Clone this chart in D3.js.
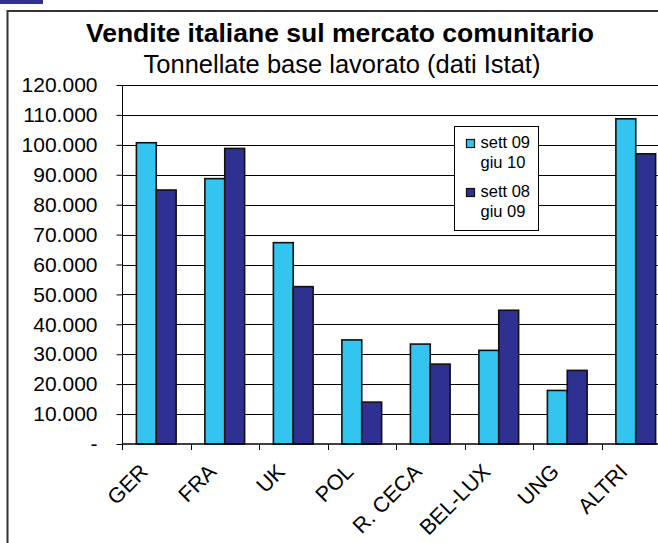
<!DOCTYPE html>
<html>
<head>
<meta charset="utf-8">
<script src="https://cdn.jsdelivr.net/npm/d3@7"></script>
<style>
  body { margin: 0; background: #fff; }
  svg { display: block; font-family: "Liberation Sans", Arial, sans-serif; }
</style>
</head>
<body>
<svg width="658" height="543"></svg>
<script>
const categories = ['GER', 'FRA', 'UK', 'POL', 'R. CECA', 'BEL-LUX', 'UNG', 'ALTRI']
const seriesNames = [['sett 09', 'giu 10'], ['sett 08', 'giu 09']]
const sett09giu10 = [100700, 88700, 67300, 34800, 33400, 31300, 17900, 108700]
const sett08giu09 = [84900, 98800, 52600, 14000, 26700, 44700, 24600, 97000]
const yTicks = [0, 10000, 20000, 30000, 40000, 50000, 60000, 70000, 80000, 90000, 100000, 110000, 120000]
const colors = ['#33c4ef', '#2e3192']

const svg = d3.select('svg')
const plotLeft = 122, plotRight = 670, plotTop = 85, plotBottom = 444

// frame and the small bar in the corner
svg.append('rect').attr('x', 0).attr('y', 0).attr('width', 43).attr('height', 4).attr('fill', '#2e3192')
svg.append('rect')
  .attr('x', 7.5).attr('y', 11).attr('width', 700).attr('height', 600)
  .attr('fill', 'none').attr('stroke', '#333').attr('stroke-width', 2)

svg.append('text')
  .attr('x', 340).attr('y', 42)
  .attr('text-anchor', 'middle')
  .style('font-size', '26.5px').style('font-weight', 'bold')
  .text('Vendite italiane sul mercato comunitario')
svg.append('text')
  .attr('x', 342).attr('y', 73)
  .attr('text-anchor', 'middle')
  .style('font-size', '25.5px')
  .text('Tonnellate base lavorato (dati Istat)')

let x = d3.scaleBand()
  .domain(categories)
  .range([plotLeft, plotRight])
  .paddingInner(0.42)
  .paddingOuter(0.21)
let xs = d3.scaleBand().domain([0, 1]).range([0, x.bandwidth()])
let y = d3.scaleLinear().domain([0, 120000]).range([plotBottom, plotTop])

const fmt = d3.formatLocale({ decimal: ',', thousands: '.', grouping: [3], currency: ['', '€'] }).format(',d')

// gridlines
svg.append('g')
  .selectAll('line')
  .data(yTicks.slice(1))
  .enter()
  .append('line')
  .attr('x1', plotLeft).attr('x2', plotRight)
  .attr('y1', d => Math.round(y(d)) + 0.5).attr('y2', d => Math.round(y(d)) + 0.5)
  .attr('stroke', '#000').attr('stroke-width', 1)

// y axis
let yAxis = d3.axisLeft(y)
  .tickValues(yTicks)
  .tickSize(6)
  .tickPadding(19)
  .tickFormat(d => d === 0 ? '-' : fmt(d))
let gy = svg.append('g')
  .attr('transform', 'translate(' + (plotLeft + 0.5) + ',0)')
  .call(yAxis)
gy.select('.domain').remove()
gy.selectAll('line').attr('stroke', '#000')
gy.selectAll('text')
  .style('font-size', '21px').attr('fill', '#000')
  .attr('font-family', '"Liberation Sans", Arial, sans-serif')
svg.append('line')
  .attr('x1', plotLeft + 0.5).attr('x2', plotLeft + 0.5)
  .attr('y1', plotTop).attr('y2', plotBottom + 6)
  .attr('stroke', '#000')

// bars
const data = [sett09giu10, sett08giu09]
data.forEach(function (series, s) {
  svg.append('g')
    .selectAll('rect')
    .data(series)
    .enter()
    .append('rect')
    .attr('x', (d, i) => x(categories[i]) + xs(s))
    .attr('y', d => y(d))
    .attr('width', xs.bandwidth())
    .attr('height', d => y(0) - y(d))
    .attr('fill', colors[s])
    .attr('stroke', '#111')
    .attr('stroke-width', 1.6)
})

// x axis line + ticks between categories
svg.append('line')
  .attr('x1', plotLeft).attr('x2', plotRight)
  .attr('y1', plotBottom).attr('y2', plotBottom)
  .attr('stroke', '#000').attr('stroke-width', 1.5)
svg.append('g')
  .selectAll('line')
  .data(categories)
  .enter()
  .append('line')
  .attr('x1', d => Math.round(x(d) - x.step() * x.paddingOuter()) + 0.5)
  .attr('x2', d => Math.round(x(d) - x.step() * x.paddingOuter()) + 0.5)
  .attr('y1', plotBottom).attr('y2', plotBottom + 6)
  .attr('stroke', '#000')

svg.append('g')
  .selectAll('text')
  .data(categories)
  .enter()
  .append('text')
  .attr('text-anchor', 'end')
  .attr('transform', d => 'translate(' + (x(d) + x.bandwidth() / 2 - 7) + ',' + (plotBottom + 29) + ') rotate(-45)')
  .style('font-size', '21.5px')
  .text(d => d)

// legend
let lg = svg.append('g').attr('transform', 'translate(454.5,126.5)')
lg.append('rect').attr('width', 84).attr('height', 104).attr('fill', '#fff').attr('stroke', '#000')
seriesNames.forEach(function (names, s) {
  let g = lg.append('g').attr('transform', 'translate(0,' + (s * 49) + ')')
  g.append('rect').attr('x', 12).attr('y', 13).attr('width', 8).attr('height', 8)
    .attr('fill', colors[s]).attr('stroke', '#111').attr('stroke-width', 1.2)
  g.selectAll('text')
    .data(names)
    .enter()
    .append('text')
    .attr('x', 26).attr('y', (d, i) => 21 + i * 20)
    .style('font-size', '16.5px')
    .text(d => d)
})
</script>
</body>
</html>
